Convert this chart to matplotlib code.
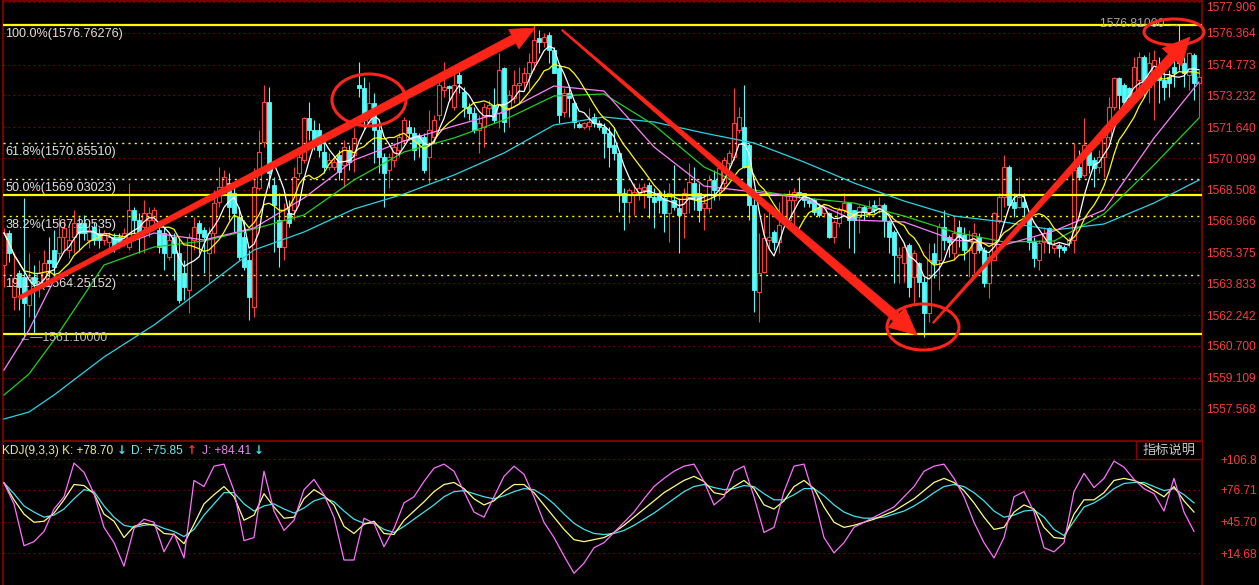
import numpy as np
import pandas as pd
import matplotlib
matplotlib.use("Agg")  # headless
import matplotlib.pyplot as plt
from matplotlib.patches import Ellipse, Polygon, Rectangle
from matplotlib.transforms import IdentityTransform

plt.rcParams["font.family"] = ["Liberation Sans", "DejaVu Sans"]

# ---- candle data (one bar per slot, oldest first) ----
opens = [
    1564.75, 1566.35, 1563.15, 1564.35, 1564.15, 1562.75, 1564.15, 1563.85, 1563.85, 1565.00,
    1565.50, 1565.35, 1566.15, 1565.50, 1566.15, 1566.85, 1566.85, 1566.00, 1566.65, 1566.35,
    1566.00, 1565.90, 1566.15, 1566.15, 1566.00, 1565.65, 1567.50, 1567.00, 1566.65, 1567.00,
    1567.00, 1566.50, 1566.35, 1565.15, 1566.15, 1565.35, 1564.35, 1563.50, 1566.00, 1566.85,
    1566.50, 1565.35, 1566.35, 1567.90, 1568.65, 1568.85, 1568.35, 1567.15, 1566.15, 1565.00,
    1562.65, 1568.60, 1570.90, 1572.90, 1568.75, 1567.00, 1565.65, 1567.35, 1567.50, 1569.35,
    1570.00, 1572.10, 1571.50, 1571.50, 1570.40, 1569.65, 1569.65, 1570.25, 1569.75, 1570.50,
    1570.25, 1573.75, 1573.60, 1571.90, 1572.85, 1571.50, 1570.15, 1569.50, 1570.00, 1570.50,
    1571.00, 1571.65, 1571.35, 1571.25, 1571.15, 1570.15, 1571.15, 1572.25, 1573.50, 1573.70,
    1572.65, 1574.25, 1573.40, 1572.65, 1572.35, 1571.50, 1571.65, 1572.60, 1572.75, 1572.35,
    1574.60, 1572.60, 1573.10, 1573.75, 1573.90, 1574.35, 1574.90, 1576.10, 1575.90, 1576.25,
    1575.50, 1574.60, 1572.40, 1573.35, 1572.85, 1571.80, 1571.65, 1571.70, 1572.15, 1571.85,
    1571.65, 1571.35, 1570.75, 1570.35, 1568.35, 1567.90, 1568.25, 1568.35, 1568.50, 1568.75,
    1568.15, 1568.35, 1568.10, 1567.35, 1568.00, 1567.60, 1567.35, 1568.15, 1568.85, 1568.35,
    1567.60, 1567.60, 1569.00, 1568.50, 1568.85, 1569.85, 1570.15, 1571.50, 1571.65, 1570.75,
    1567.75, 1563.40, 1564.40, 1566.00, 1566.40, 1565.90, 1566.85, 1567.00, 1568.00, 1568.40,
    1568.35, 1568.00, 1568.00, 1567.65, 1567.35, 1567.35, 1566.15, 1566.85, 1567.50, 1567.85,
    1567.50, 1567.15, 1567.65, 1567.40, 1567.75, 1567.60, 1567.75, 1566.90, 1566.40, 1565.15,
    1564.85, 1565.75, 1564.15, 1564.85, 1563.90, 1562.35, 1565.35, 1565.00, 1566.65, 1566.15,
    1565.35, 1566.65, 1566.25, 1565.50, 1565.35, 1566.15, 1565.50, 1563.85, 1565.00, 1567.00,
    1568.15, 1569.65, 1567.90, 1567.65, 1567.90, 1567.15, 1565.90, 1565.00, 1565.90, 1566.60,
    1565.60, 1565.75, 1565.65, 1565.85, 1566.00, 1569.65, 1569.25, 1570.40, 1570.00, 1569.65,
    1570.15, 1571.15, 1572.65, 1574.10, 1573.75, 1573.60, 1573.35, 1574.00, 1575.15, 1573.65,
    1574.35, 1574.35, 1574.00, 1574.15, 1574.65, 1575.35, 1574.85, 1574.25, 1575.25, 1573.85,
]
highs = [
    1566.60, 1566.50, 1565.35, 1564.50, 1568.10, 1565.35, 1564.75, 1565.00, 1565.50, 1566.15,
    1566.50, 1567.15, 1567.00, 1566.60, 1567.50, 1567.15, 1567.25, 1566.75, 1566.90, 1566.60,
    1566.50, 1566.40, 1566.35, 1566.35, 1566.60, 1568.85, 1567.65, 1567.35, 1568.00, 1567.65,
    1567.65, 1566.65, 1566.65, 1566.35, 1566.35, 1566.15, 1565.00, 1566.35, 1567.15, 1567.00,
    1566.65, 1566.65, 1568.50, 1569.65, 1569.50, 1569.35, 1568.65, 1567.65, 1567.00, 1565.50,
    1569.60, 1571.50, 1573.75, 1573.65, 1569.15, 1568.35, 1567.85, 1568.00, 1569.65, 1570.50,
    1572.15, 1572.90, 1572.00, 1571.85, 1571.00, 1570.35, 1570.15, 1570.50, 1571.00, 1570.75,
    1571.60, 1574.90, 1574.15, 1573.90, 1573.35, 1571.85, 1570.35, 1570.35, 1570.85, 1571.35,
    1572.15, 1572.00, 1571.65, 1571.35, 1571.35, 1572.50, 1572.25, 1574.10, 1574.90, 1573.75,
    1574.50, 1574.65, 1573.65, 1572.85, 1572.65, 1572.25, 1572.85, 1573.00, 1573.60, 1575.35,
    1574.65, 1573.50, 1574.50, 1574.65, 1574.65, 1575.35, 1576.75, 1576.50, 1576.35, 1576.40,
    1575.65, 1574.85, 1573.60, 1573.60, 1573.00, 1571.90, 1571.90, 1572.60, 1572.35, 1572.00,
    1571.85, 1571.65, 1571.65, 1570.40, 1568.60, 1568.60, 1568.85, 1568.85, 1568.85, 1568.90,
    1568.60, 1568.50, 1568.50, 1568.85, 1569.75, 1568.10, 1568.60, 1569.85, 1569.65, 1568.85,
    1568.25, 1569.25, 1569.50, 1569.85, 1570.15, 1570.50, 1573.60, 1572.65, 1573.75, 1570.85,
    1568.10, 1566.35, 1567.35, 1567.40, 1566.50, 1567.90, 1568.35, 1568.50, 1568.60, 1569.15,
    1568.35, 1568.15, 1568.10, 1567.85, 1567.75, 1567.40, 1567.00, 1567.65, 1568.35, 1567.90,
    1567.50, 1567.75, 1567.75, 1568.00, 1568.00, 1568.15, 1567.85, 1567.00, 1566.50, 1565.65,
    1565.85, 1565.85, 1565.50, 1564.90, 1564.15, 1565.85, 1565.85, 1566.85, 1567.50, 1566.25,
    1567.15, 1567.00, 1566.65, 1566.50, 1566.85, 1566.35, 1565.65, 1565.35, 1567.40, 1568.35,
    1570.25, 1569.75, 1568.35, 1569.15, 1568.35, 1567.25, 1566.15, 1566.00, 1566.65, 1566.65,
    1566.00, 1565.85, 1565.75, 1566.15, 1570.85, 1570.50, 1572.10, 1570.50, 1570.15, 1570.50,
    1571.25, 1573.15, 1574.15, 1574.15, 1573.85, 1573.65, 1575.15, 1575.40, 1575.25, 1575.40,
    1575.50, 1575.15, 1574.65, 1574.50, 1575.35, 1576.80, 1575.15, 1575.40, 1575.35, 1574.50,
]
lows = [
    1563.65, 1564.90, 1562.50, 1562.50, 1561.10, 1562.15, 1561.35, 1563.15, 1563.65, 1564.15,
    1564.15, 1565.00, 1565.50, 1565.10, 1565.35, 1565.50, 1566.00, 1565.60, 1565.75, 1565.60,
    1565.75, 1565.60, 1565.40, 1565.60, 1565.70, 1565.50, 1566.35, 1565.35, 1565.35, 1566.15,
    1566.65, 1565.35, 1564.50, 1565.00, 1564.00, 1562.85, 1563.00, 1562.35, 1565.50, 1565.35,
    1564.35, 1563.85, 1565.35, 1567.65, 1568.35, 1567.00, 1566.35, 1565.00, 1564.50, 1562.00,
    1562.15, 1568.50, 1570.65, 1568.60, 1565.40, 1564.65, 1565.00, 1566.65, 1567.00, 1569.15,
    1569.85, 1571.00, 1570.50, 1570.15, 1569.35, 1569.50, 1569.50, 1569.00, 1568.65, 1569.50,
    1569.40, 1573.15, 1571.50, 1571.85, 1569.85, 1569.35, 1567.65, 1568.60, 1569.65, 1570.15,
    1570.85, 1571.00, 1570.00, 1570.15, 1569.35, 1568.85, 1570.85, 1572.00, 1573.15, 1573.00,
    1572.50, 1573.35, 1572.15, 1572.00, 1571.35, 1570.35, 1570.65, 1572.15, 1571.85, 1571.60,
    1571.40, 1571.65, 1572.85, 1572.85, 1573.50, 1573.50, 1574.50, 1575.35, 1575.65, 1574.85,
    1574.35, 1571.85, 1572.15, 1572.15, 1571.60, 1571.60, 1571.55, 1571.50, 1571.65, 1571.50,
    1570.10, 1569.65, 1570.00, 1567.40, 1566.50, 1566.85, 1567.25, 1568.00, 1567.60, 1567.10,
    1566.60, 1567.35, 1566.40, 1565.90, 1567.50, 1565.35, 1566.10, 1567.35, 1567.50, 1566.90,
    1566.50, 1567.35, 1568.00, 1568.00, 1568.50, 1569.50, 1570.00, 1571.35, 1569.60, 1567.00,
    1562.40, 1561.90, 1564.35, 1565.50, 1565.50, 1565.35, 1566.65, 1566.85, 1566.75, 1568.10,
    1567.65, 1567.65, 1567.25, 1567.15, 1567.15, 1566.10, 1565.85, 1566.65, 1567.35, 1565.60,
    1565.35, 1566.35, 1567.00, 1567.15, 1567.35, 1567.35, 1566.15, 1565.35, 1563.85, 1563.85,
    1563.90, 1563.15, 1562.85, 1563.15, 1561.15, 1561.90, 1564.10, 1563.50, 1565.50, 1565.15,
    1565.00, 1565.65, 1565.00, 1564.15, 1564.35, 1565.35, 1563.65, 1563.10, 1565.00, 1566.85,
    1567.65, 1567.65, 1567.15, 1567.60, 1567.00, 1565.50, 1564.65, 1564.50, 1565.35, 1565.35,
    1565.35, 1565.15, 1565.35, 1565.65, 1565.35, 1569.00, 1569.15, 1569.35, 1568.65, 1569.35,
    1569.15, 1571.00, 1572.50, 1572.50, 1572.50, 1572.65, 1573.15, 1573.65, 1573.15, 1572.85,
    1572.00, 1572.85, 1573.00, 1573.15, 1573.65, 1574.50, 1573.65, 1573.50, 1573.00, 1572.15,
]
closes = [
    1566.35, 1565.35, 1564.10, 1563.65, 1562.85, 1564.15, 1563.85, 1564.35, 1564.85, 1564.85,
    1564.65, 1566.15, 1566.60, 1566.00, 1566.85, 1566.35, 1566.35, 1566.50, 1566.00, 1566.00,
    1566.35, 1566.15, 1565.65, 1565.90, 1566.35, 1567.50, 1567.00, 1566.35, 1567.35, 1567.35,
    1567.50, 1565.65, 1565.35, 1566.00, 1565.35, 1563.00, 1563.65, 1566.15, 1566.65, 1566.35,
    1566.15, 1566.35, 1567.85, 1568.65, 1569.15, 1567.65, 1567.35, 1565.15, 1564.65, 1563.15,
    1568.65, 1570.40, 1572.90, 1569.35, 1567.75, 1565.65, 1567.00, 1566.85, 1569.15, 1570.15,
    1572.10, 1571.50, 1571.00, 1570.50, 1569.65, 1570.00, 1569.90, 1569.40, 1570.65, 1569.90,
    1571.10, 1573.60, 1572.00, 1572.85, 1571.50, 1570.15, 1569.35, 1570.15, 1570.65, 1571.15,
    1572.00, 1571.35, 1570.50, 1570.85, 1569.50, 1571.50, 1572.00, 1573.75, 1573.65, 1573.60,
    1573.75, 1573.85, 1572.65, 1572.35, 1571.50, 1571.85, 1572.65, 1572.75, 1572.00, 1574.50,
    1571.90, 1573.25, 1573.75, 1573.85, 1574.35, 1574.90, 1576.00, 1575.90, 1576.15, 1575.50,
    1574.35, 1572.25, 1573.35, 1573.10, 1571.90, 1571.65, 1571.85, 1571.90, 1571.85, 1571.65,
    1571.35, 1570.65, 1570.35, 1568.35, 1567.90, 1568.50, 1568.40, 1568.60, 1568.65, 1568.15,
    1567.90, 1568.00, 1567.35, 1568.35, 1567.65, 1567.25, 1568.35, 1568.90, 1568.15, 1567.50,
    1567.85, 1569.00, 1568.50, 1569.60, 1570.00, 1570.35, 1571.85, 1572.15, 1569.65, 1567.75,
    1563.50, 1564.35, 1566.10, 1566.15, 1565.90, 1566.75, 1568.25, 1568.00, 1568.40, 1568.25,
    1568.00, 1567.85, 1567.40, 1567.25, 1567.65, 1566.15, 1566.90, 1567.50, 1567.85, 1567.00,
    1567.00, 1567.65, 1567.40, 1567.60, 1567.50, 1567.75, 1567.00, 1566.15, 1565.25, 1565.25,
    1565.65, 1563.65, 1565.35, 1563.90, 1562.35, 1565.00, 1564.85, 1566.65, 1566.00, 1565.90,
    1566.35, 1566.15, 1565.50, 1566.00, 1566.35, 1565.50, 1563.85, 1565.15, 1567.35, 1568.15,
    1569.65, 1567.75, 1567.60, 1568.15, 1567.65, 1565.90, 1565.10, 1565.85, 1566.35, 1565.85,
    1565.75, 1565.60, 1565.50, 1566.00, 1569.50, 1569.15, 1570.75, 1569.75, 1569.60, 1570.15,
    1571.15, 1572.65, 1574.10, 1573.25, 1572.90, 1573.15, 1574.65, 1575.15, 1573.85, 1574.85,
    1575.00, 1574.00, 1573.65, 1573.85, 1574.35, 1574.85, 1574.35, 1575.35, 1573.85, 1574.15,
]

# slow moving averages, read at every 10th bar
ma_pos = [0, 5, 10, 20, 30, 40, 50, 60, 70, 80, 90, 100, 110, 120, 130, 140, 150,
          160, 170, 180, 190, 200, 210, 220, 230, 239]
ma_violet = [1559.50, 1561.50, 1564.00, 1565.40, 1566.35, 1566.00, 1566.60, 1568.10, 1570.00,
             1570.95, 1571.70, 1572.40, 1573.70, 1573.45, 1570.65, 1568.70, 1568.40, 1568.10,
             1567.00, 1566.90, 1566.00, 1565.75, 1566.45, 1567.50, 1571.10, 1573.90]
ma_green = [1558.25, 1559.30, 1561.00, 1564.75, 1565.65, 1565.95, 1566.55, 1567.25, 1569.00,
            1570.40, 1571.10, 1572.00, 1573.20, 1573.30, 1571.75, 1569.65, 1568.50, 1568.10,
            1567.85, 1567.20, 1566.40, 1565.90, 1565.95, 1567.30, 1569.75, 1572.10]
ma_cyan = [1557.05, 1557.40, 1558.25, 1560.15, 1561.75, 1563.60, 1565.50, 1566.40, 1567.55,
           1568.30, 1569.25, 1570.35, 1571.75, 1572.15, 1571.90, 1571.35, 1570.85, 1569.90,
           1568.85, 1567.95, 1567.20, 1566.90, 1566.50, 1566.80, 1567.85, 1569.00]

# KDJ(9,3,3), read at every 2nd bar
kdj_k = [83.5, 67, 53, 45, 46, 54, 67, 82, 81, 73, 53, 46, 30, 41, 44, 42, 34, 33, 24, 43,
         63, 72, 80, 70, 47, 52, 73, 60, 49, 50, 68, 77, 71, 62, 41, 34, 43, 46, 34, 33,
         47, 56, 65, 75, 82, 84, 78, 68, 62, 66, 75, 82, 82, 74, 62, 50, 38, 28, 26, 28,
         30, 35, 42, 50, 58, 66, 74, 80, 86, 90, 85, 74, 72, 80, 86, 78, 62, 58, 66, 80,
         86, 78, 60, 45, 40, 42, 45, 48, 52, 56, 62, 68, 76, 84, 88, 84, 76, 64, 50, 38,
         40, 55, 62, 58, 40, 30, 29, 53, 67, 67, 74, 86, 88, 86, 82, 76, 70, 80, 66, 55]
kdj_d = [83.5, 73, 61, 55, 50, 52, 58, 68, 77, 75, 61, 50, 42, 40, 42, 43, 39, 36, 31, 38,
         52, 63, 74, 74, 63, 56, 61, 63, 58, 54, 59, 66, 69, 65, 56, 48, 44, 44, 38, 35,
         41, 48, 55, 62, 70, 75, 76, 73, 70, 68, 71, 75, 78, 77, 71, 63, 53, 44, 38, 34,
         33, 34, 37, 42, 48, 54, 61, 68, 75, 80, 82, 79, 77, 78, 81, 80, 73, 67, 67, 72,
         78, 78, 71, 62, 55, 51, 49, 49, 50, 53, 56, 61, 67, 74, 80, 82, 80, 74, 66, 56,
         50, 52, 56, 57, 50, 38, 32, 46, 60, 64, 70, 78, 83, 84, 84, 80, 76, 78, 72, 64]
kdj_j = [83.5, 63, 22, 26, 36, 58, 70, 103, 94, 73, 40, 25, 2, 39, 48, 45, 16, 34, 10, 86,
         80, 100, 102, 76, 27, 30, 95, 56, 37, 47, 77, 87, 72, 50, 8, 8, 49, 44, 21, 39,
         64, 70, 85, 98, 102, 95, 75, 55, 50, 70, 90, 100, 92, 70, 45, 30, 12, -5, 5, 20,
         25, 35, 45, 55, 68, 80, 88, 95, 100, 102, 85, 62, 70, 95, 100, 70, 35, 40, 75, 100,
         102, 70, 30, 15, 25, 40, 45, 50, 55, 60, 70, 80, 95, 100, 102, 88, 70, 45, 25, 10,
         30, 70, 75, 55, 20, 16, 25, 75, 93, 79, 88, 105, 99, 87, 78, 73, 56, 88, 55, 36]

fib_names = ["100.0%", "61.8%", "50.0%", "38.2%", "19.1%"]
fib_levels = [1576.76276, 1570.85510, 1569.03023, 1567.20535, 1564.25152]
fib_low = 1561.29770
hline_extra = 1568.24
low_mark = 1561.10
high_mark = 1576.81

price_ticks = [1577.9064, 1576.3645, 1574.7730, 1573.2321, 1571.6408, 1570.0993, 1568.5080,
               1566.9665, 1565.3752, 1563.8337, 1562.2425, 1560.7009, 1559.1097, 1557.5681]
kdj_ticks = [106.8, 76.71, 45.70, 14.68]

BG = "#000000"
FRAME = "#8c0000"
GRID = "#800000"
UP = "#ff3c3c"
DOWN = "#54fcfc"
MARK = "#ff2418"
TXT = "#e0e0e0"
AXIS_TXT = "#ff3a3a"

W, H = 1259, 585
fig = plt.figure(figsize=(W / 100, H / 100), dpi=100, facecolor=BG)
ax = fig.add_axes([3 / W, 1 - 441 / H, 1199 / W, 440 / H], facecolor=BG)
kx = fig.add_axes([3 / W, 0, 1199 / W, 142 / H], facecolor=BG)

n = len(closes)
idx = np.arange(n)
o = np.array(opens); c = np.array(closes)
hi = np.array(highs); lo = np.array(lows)
up = c >= o

# ---- main price panel ----
ax.set_xlim(-0.2, 239.6)
ax.set_ylim(1555.95, 1577.95)
ax.yaxis.tick_right()
ax.set_yticks(price_ticks)
# the terminal only has room for eight characters of each label;
# the topmost one sits on the frame edge, so it is drawn separately below
labels = [f"{v:.4f}"[:8] for v in price_ticks]
ax.set_yticklabels([""] + labels[1:])
ax.tick_params(axis="y", length=0, pad=3, labelcolor=AXIS_TXT, labelsize=8.6)
ax.annotate(labels[0], xy=(1.0, 1.0), xycoords="axes fraction", xytext=(3, -0.5),
            textcoords="offset points", ha="left", va="top", color=AXIS_TXT,
            fontsize=8.6, annotation_clip=False)
ax.set_xticks([])
ax.grid(True, axis="y", color=GRID, lw=0.8, ls=(0, (1.5, 3)), zorder=0)
for s in ax.spines.values():
    s.set_color(FRAME)
    s.set_linewidth(1.2)

wick_col = np.where(up, UP, DOWN)
ax.vlines(idx, lo, hi, colors=wick_col, lw=0.8, zorder=2)
body_h = np.maximum(np.abs(c - o), 0.04)
body_b = np.minimum(o, c)
ax.bar(idx[up], body_h[up], bottom=body_b[up], width=0.62, color=BG,
       edgecolor=UP, lw=0.8, zorder=3)
ax.bar(idx[~up], body_h[~up], bottom=body_b[~up], width=0.62, color=DOWN,
       edgecolor=DOWN, lw=0.6, zorder=3)

# fibonacci levels
for lvl, name in zip(fib_levels, fib_names):
    solid = name == "100.0%"
    ax.axhline(lvl, color="#ffff00", lw=1.6 if solid else 1.0,
               ls="-" if solid else (0, (1.5, 3)), zorder=4)
    ax.annotate(f"{name}({lvl:.5f})", xy=(0.002, lvl), xycoords=("axes fraction", "data"),
                xytext=(0, -2), textcoords="offset points", va="top", ha="left",
                color=TXT, fontsize=9.1, zorder=6)
ax.axhline(fib_low, color="#ffff00", lw=1.6, zorder=4)
ax.axhline(hline_extra, color="#ffff00", lw=1.6, zorder=4)

# moving averages
ma5 = pd.Series(closes).rolling(5, min_periods=1).mean()
ma10 = pd.Series(closes).rolling(10, min_periods=1).mean()
ax.plot(ma_pos, ma_cyan, color="#28d4e4", lw=0.9, zorder=5)
ax.plot(ma_pos, ma_green, color="#20d020", lw=0.9, zorder=5)
ax.plot(ma_pos, ma_violet, color="#ff80ff", lw=0.9, zorder=5)
ax.plot(idx, ma10, color="#ffff00", lw=0.9, zorder=5)
ax.plot(idx, ma5, color="#ffffff", lw=0.9, zorder=5)

# extreme price marks
i_lo = int(np.argmin(lo))
i_hi = int(np.argmax(hi))
ax.annotate("\u2190\u20141561.10000", xy=(i_lo - 1.2, low_mark), va="center", ha="left",
            color="#c0c0c0", fontsize=8.8, zorder=6)
ax.annotate(f"{high_mark:.5f} \u2192", xy=(i_hi + 0.2, high_mark), va="center",
            ha="right", color="#a8a8a8", fontsize=8.8, zorder=6)


def taper_arrow(a, b, w0, w1, head_len, head_w):
    """Hand-drawn style arrow: thin tail widening towards a filled head (pixel sizes)."""
    pa = ax.transData.transform(a)
    pb = ax.transData.transform(b)
    d = pb - pa
    u = d / np.hypot(*d)
    nv = np.array([-u[1], u[0]])
    base = pb - u * head_len
    pts = [pa + nv * w0, base + nv * w1, base + nv * head_w, pb,
           base - nv * head_w, base - nv * w1, pa - nv * w0]
    ax.add_patch(Polygon(pts, closed=True, transform=IdentityTransform(),
                         facecolor=MARK, edgecolor=MARK, lw=0.5, zorder=7))


taper_arrow((3.0, 1563.1), (106.2, 1576.6), 2.0, 4.5, 24, 11)
taper_arrow((111.6, 1576.5), (182.6, 1561.25), 0.8, 4.8, 27, 13)
taper_arrow((185.8, 1561.85), (237.2, 1576.15), 0.8, 4.8, 27, 13)

for (cx, cy), w, h in [((73.0, 1573.0), 14.8, 2.6),
                       ((183.8, 1561.65), 14.4, 2.3),
                       ((234.0, 1576.4), 12.0, 1.3)]:
    ax.add_patch(Ellipse((cx, cy), w, h, fill=False, edgecolor=MARK, lw=2.2,
                         zorder=8, clip_on=False))

# ---- KDJ panel ----
kpos = np.arange(0, n, 2)
kx.set_xlim(-0.2, 239.6)
kx.set_ylim(-16.5, 122.7)
kx.yaxis.tick_right()
kx.set_yticks(kdj_ticks)
kx.set_yticklabels(["+106.8", "+76.71", "+45.70", "+14.68"])
kx.tick_params(axis="y", length=0, pad=13, labelcolor=AXIS_TXT, labelsize=8.6)
kx.set_xticks([])
kx.grid(True, axis="y", color=GRID, lw=0.8, ls=(0, (1.5, 3)), zorder=0)
for name, s in kx.spines.items():
    s.set_color(FRAME)
    s.set_linewidth(1.2)
    s.set_visible(name in ("left", "right"))
kx.plot(kpos, kdj_d, color="#40e4ec", lw=0.9, zorder=3)
kx.plot(kpos, kdj_k, color="#ffff80", lw=0.9, zorder=4)
kx.plot(kpos, kdj_j, color="#ff70ff", lw=0.9, zorder=5)

# KDJ header
hy = 1 - 451 / H
for x, s, col, fam in [(2, "KDJ(9,3,3) K: +78.70", "#ecec98", None),
                       (117, "\u2193", "#40e0f0", "DejaVu Sans"),
                       (131, "D: +75.85", "#70e8f0", None),
                       (187, "\u2191", "#ff3030", "DejaVu Sans"),
                       (202, "J: +84.41", "#ee80f0", None),
                       (254, "\u2193", "#40e0f0", "DejaVu Sans")]:
    kw = {"family": fam, "weight": "bold"} if fam else {}
    fig.text(x / W, hy, s, color=col, fontsize=8.6, va="center", ha="left", **kw)

fig.patches.append(Rectangle((1136 / W, 1 - 459 / H), 66 / W, 18 / H,
                             transform=fig.transFigure, facecolor=BG,
                             edgecolor=FRAME, lw=1.0, zorder=10))
fig.text(1169 / W, 1 - 450 / H, "指标说明", color="#c8c8c8", fontsize=9.5,
         family=["Noto Sans CJK SC", "DejaVu Sans"], ha="center", va="center", zorder=11)

fig.savefig("out.png", dpi=100, facecolor=BG)
